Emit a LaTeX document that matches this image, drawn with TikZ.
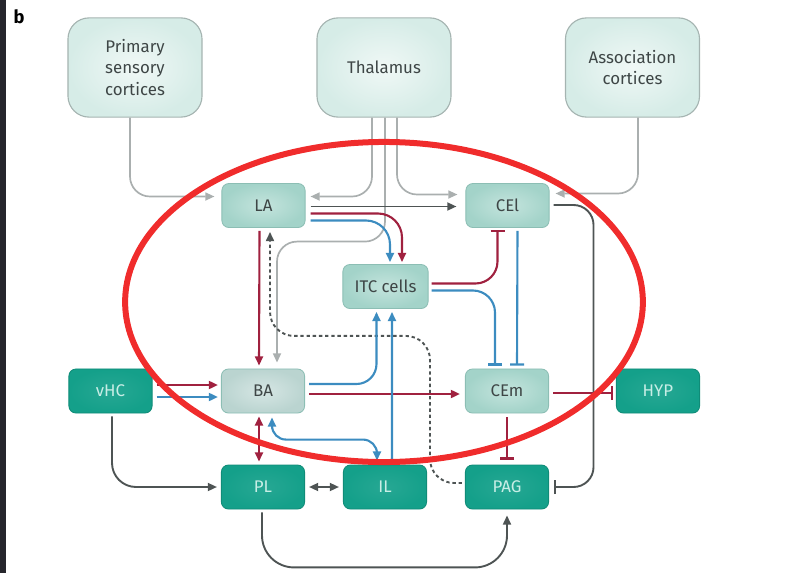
\documentclass[tikz,border=0pt]{standalone}
\usepackage{fontspec}
\setmainfont{Fira Sans}
\usepackage{xcolor}
\definecolor{amstrip}{RGB}{38,38,44}
\definecolor{amtext}{RGB}{62,70,70}
\definecolor{amcortex}{RGB}{214,236,231}
\definecolor{amcortexin}{RGB}{240,248,246}
\definecolor{amcortexline}{RGB}{165,180,177}
\definecolor{amnucleus}{RGB}{163,211,201}
\definecolor{amnucleusin}{RGB}{196,228,221}
\definecolor{amnucleusline}{RGB}{140,190,180}
\definecolor{ambasal}{RGB}{186,212,208}
\definecolor{ambasalin}{RGB}{214,230,228}
\definecolor{amout}{RGB}{20,160,138}
\definecolor{amoutline}{RGB}{16,140,120}
\definecolor{amouttext}{RGB}{200,238,230}
\definecolor{amred}{RGB}{160,33,63}
\definecolor{amblue}{RGB}{60,140,192}
\definecolor{amdark}{RGB}{78,84,84}
\definecolor{amlight}{RGB}{170,175,175}
\definecolor{amcircle}{RGB}{240,44,44}
\usepackage{tikz}
\usetikzlibrary{arrows.meta, positioning, calc}

\begin{document}
\begin{tikzpicture}[x=0.025cm, y=-0.025cm,
  every node/.style={font=\fontsize{12}{15.5}\selectfont, text=amtext},
  cortex/.style={draw=amcortexline, line width=0.8pt, rounded corners=15pt,
    inner color=amcortexin, outer color=amcortex,
    minimum width=3.35cm, minimum height=2.48cm, align=center, inner sep=0pt},
  nucleus/.style={draw=amnucleusline, line width=0.6pt, rounded corners=5pt,
    inner color=amnucleusin, outer color=amnucleus,
    minimum width=2.08cm, minimum height=1.1cm, inner sep=0pt},
  basal/.style={nucleus, inner color=ambasalin, outer color=ambasal},
  output/.style={nucleus, draw=amoutline, inner color=amout!92!white, outer color=amout,
    text=amouttext},
  excite/.style={-{Triangle[length=2.3mm,width=2mm]}},
  both/.style={{Triangle[length=2.3mm,width=2mm]}-{Triangle[length=2.3mm,width=2mm]}},
  inhibit/.style={-{Bar[width=3.5mm]}},
  redlink/.style={draw=amred, line width=1.5pt},
  bluelink/.style={draw=amblue, line width=1.5pt},
  darklink/.style={draw=amdark, line width=1.35pt},
  graylink/.style={draw=amlight, line width=1.2pt},
  dashlink/.style={draw=amdark, line width=1.35pt, dash pattern=on 2.4pt off 2pt}]

\useasboundingbox (0,0) rectangle (790,573);
\fill[amstrip] (0,0) rectangle (6,573);
\node[font=\fontsize{13}{15}\selectfont\bfseries, text=black] (panel) at (19,17) {b};

% --- input regions ---
\node[cortex] (prim) at (135,67.5) {Primary\\sensory\\cortices};
\node[cortex] (thal) at (384,67.5) {Thalamus};
\node[cortex] (assoc) at (632.5,67.5) {Association\\cortices};

% --- amygdala nuclei ---
\node[nucleus] (LA) at (263.5,205.5) {LA};
\node[nucleus] (CEl) at (507.5,205.5) {CEl};
\node[nucleus, minimum width=2.13cm] (ITC) at (385.5,286.5) {ITC cells};
\node[basal] (BA) at (263,391) {BA};
\node[nucleus] (CEm) at (507,391) {CEm};

% --- outside targets ---
\node[output] (vHC) at (110.5,391) {vHC};
\node[output] (HYP) at (658,391) {HYP};
\node[output] (PL) at (263,487) {PL};
\node[output] (IL) at (385,487) {IL};
\node[output] (PAG) at (507,487) {PAG};

% sensory and thalamic inputs
\draw[graylink, excite, rounded corners=0.5cm] ($(prim.south)+(-5,0)$) |- ($(LA.west)+(-7,-9)$);
\draw[graylink, excite, rounded corners=0.5cm] ($(thal.south)+(-12,0)$) |- ($(LA.east)+(5,-9)$);
\draw[graylink, excite, rounded corners=0.5cm] ($(thal.south)+(13,0)$) |- ($(CEl.west)+(-8,-11)$);
\draw[graylink, excite, rounded corners=0.5cm] ($(thal.south)+(1,0)$) |- ($(BA.north)+(14,-127)$) -- ($(BA.north)+(14,-6)$);
\draw[graylink, excite, rounded corners=0.5cm] ($(assoc.south)+(5.5,0)$) |- ($(CEl.east)+(6,-12)$);

% LA outputs
\draw[darklink, excite] ($(LA.east)+(5,1)$) -- ($(CEl.west)+(-9,1)$);
\draw[redlink, excite, rounded corners=0.6cm] ($(LA.east)+(5,8)$) -| ($(ITC.north)+(16.5,-2)$);
\draw[bluelink, excite, rounded corners=0.6cm] ($(LA.east)+(5,15)$) -| ($(ITC.north)+(4.5,-2)$);
\draw[redlink, excite] ($(LA.south)+(-4,3)$) -- ($(BA.north)+(-4,-3)$);

% PAG feedback to LA
\draw[dashlink, excite, rounded corners=0.6cm] ($(PAG.west)+(-3,-4)$) -| ($(ITC.south)+(44.5,27)$) -| ($(LA.south)+(6.5,4)$);

% ITC and CEl projections to the central nucleus
\draw[redlink, inhibit, rounded corners=0.55cm] ($(ITC.east)+(3,-3)$) -| ($(CEl.south)+(-10,2)$);
\draw[bluelink, inhibit, rounded corners=0.55cm] ($(ITC.east)+(3,4)$) -| ($(CEm.north)+(-12,-3)$);
\draw[bluelink, inhibit] ($(CEl.south)+(10,3)$) -- ($(CEm.north)+(10,-3)$);

% hippocampal input
\draw[redlink, excite] ($(vHC.east)+(4,-6)$) -- ($(BA.west)+(-3,-6)$);
\draw[bluelink, excite] ($(vHC.east)+(4,6)$) -- ($(BA.west)+(-3,6)$);
\draw[darklink, excite, rounded corners=0.6cm] ($(vHC.south)+(1.5,3)$) |- ($(PL.west)+(-4,0)$);

% BA outputs
\draw[bluelink, excite, rounded corners=0.5cm] ($(BA.east)+(4,-7)$) -| ($(ITC.south)+(-9,3)$);
\draw[redlink, excite] ($(BA.east)+(4,3)$) -- ($(CEm.west)+(-5,3)$);
\draw[redlink, both] ($(BA.south)+(-4,3)$) -- ($(PL.north)+(-4,-3)$);
\draw[bluelink, both, rounded corners=0.35cm] ($(BA.south)+(9,4)$) |- ($(IL.north)+(-8,-25)$) -- ($(IL.north)+(-8,-4)$);

% prefrontal links
\draw[bluelink, excite] ($(IL.north)+(7,-1)$) -- ($(ITC.south)+(6.5,3)$);
\draw[darklink, both] ($(PL.east)+(4,0)$) -- ($(IL.west)+(-4,0)$);
\draw[darklink, excite, rounded corners=0.8cm] ($(PL.south)+(-1,3)$) |- ($(PAG.south)+(0,58)$) -- ($(PAG.south)+(0,6)$);

% central nucleus outputs
\draw[redlink, inhibit] ($(CEm.east)+(4,2)$) -- ($(HYP.west)+(-3,2)$);
\draw[redlink, inhibit] ($(CEm.south)+(0,4)$) -- ($(PAG.north)+(0,-5)$);
\draw[darklink, inhibit, rounded corners=0.5cm] ($(CEl.east)+(4,-0.5)$) -- ($(CEl.east)+(44,-0.5)$) |- ($(PAG.east)+(5,0)$);

% highlight ring round the amygdala circuit
\draw[amcircle, line width=0.15cm] (384,302) ellipse [x radius=6.47cm, y radius=4.0cm];

\end{tikzpicture}
\end{document}
